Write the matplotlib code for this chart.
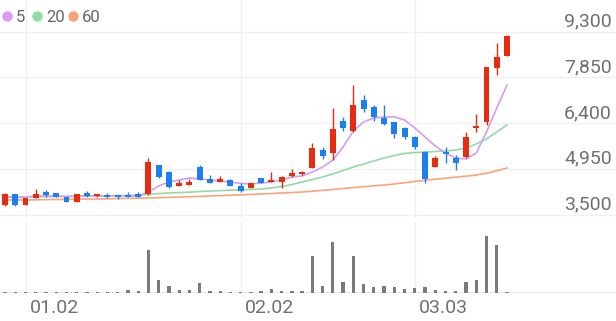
import matplotlib
matplotlib.use("Agg")
import matplotlib.pyplot as plt
import numpy as np

plt.rcParams['font.family'] = ['Roboto', 'DejaVu Sans']

# daily candles (open, high, low, close)
opens = [3800, 4150, 3800, 4020, 4210, 4180, 4060, 3900, 4180, 4090,
         4120, 4080, 4120, 4150, 4150, 5070, 4850, 4400, 4440, 5010,
         4630, 4530, 4600, 4400, 4340, 4660, 4530, 4530, 4720, 4790,
         4980, 5550, 5450, 6470, 6150, 7130, 6910, 6560, 6430, 6250,
         5960, 5480, 5010, 5480, 5290, 5320, 6250, 6440, 8150, 8530]
highs = [4170, 4160, 4030, 4310, 4280, 4190, 4060, 4160, 4250, 4120,
         4180, 4080, 4220, 4210, 5290, 5080, 4880, 4600, 4630, 5070,
         4750, 4720, 4620, 4500, 4510, 4670, 4850, 4720, 4940, 4880,
         5770, 5640, 6880, 6590, 7610, 7290, 6970, 6970, 6430, 6280,
         5990, 5500, 5360, 5640, 5390, 6120, 6690, 8190, 8940, 9200]
lows = [3780, 3770, 3790, 4020, 4060, 4050, 3890, 3890, 4060, 4050,
        4030, 3990, 4050, 4050, 4110, 4660, 4340, 4390, 4430, 4590,
        4490, 4520, 4390, 4210, 4330, 4490, 4520, 4340, 4690, 4750,
        4970, 5260, 5230, 6150, 6120, 6750, 6470, 6340, 5930, 5900,
        5590, 4500, 5000, 5130, 4910, 5290, 6120, 6340, 7930, 8520]
closes = [4150, 3800, 4020, 4150, 4120, 4060, 3900, 4150, 4090, 4120,
          4060, 4060, 4060, 4060, 5170, 4690, 4370, 4500, 4530, 4600,
          4500, 4630, 4400, 4250, 4500, 4500, 4600, 4690, 4820, 4850,
          5610, 5360, 6210, 6250, 6970, 6850, 6590, 6370, 6050, 5960,
          5640, 4630, 5290, 5420, 5130, 5960, 6310, 8180, 8500, 9160]

# moving averages as shown on the chart
ma5 = [4055, 4055, 4055, 4087, 4087, 4087, 4071, 4087, 4087, 4087,
       4087, 4087, 4087, 4087, 4214, 4404, 4531, 4595, 4658, 4626,
       4595, 4563, 4531, 4484, 4468, 4500, 4531, 4595, 4690, 4722,
       4849, 5007, 5229, 5642, 6149, 6435, 6562, 6594, 6594, 6499,
       6245, 5959, 5674, 5451, 5293, 5261, 5451, 6118, 6879, 7609]
ma20 = [4055, 4055, 4055, 4062, 4068, 4071, 4074, 4081, 4087, 4087,
        4093, 4100, 4106, 4112, 4135, 4166, 4182, 4195, 4208, 4227,
        4246, 4258, 4271, 4284, 4296, 4309, 4341, 4388, 4452, 4531,
        4611, 4690, 4785, 4896, 5007, 5102, 5198, 5293, 5372, 5436,
        5467, 5483, 5499, 5515, 5547, 5610, 5737, 5896, 6118, 6340]
ma60 = [3960, 3960, 3960, 3966, 3973, 3976, 3979, 3985, 3992, 3992,
        3998, 4005, 4011, 4017, 4024, 4033, 4043, 4055, 4065, 4074,
        4087, 4100, 4112, 4125, 4138, 4150, 4166, 4182, 4198, 4214,
        4239, 4268, 4293, 4325, 4354, 4382, 4411, 4436, 4468, 4506,
        4547, 4588, 4620, 4652, 4684, 4715, 4753, 4810, 4887, 4975]

volume = [1, 1, 1, 1, 1, 1, 1, 1.5, 1, 1,
          1, 1, 3, 2, 43, 13, 7, 3, 3, 10,
          2, 2, 1, 1, 1, 2, 4, 2, 2, 2,
          37, 7, 51, 11, 37, 9, 6, 7, 6, 4,
          5, 6, 3, 2, 2, 11, 13, 57, 48, 1]

price_ticks = [3500, 4950, 6400, 7850, 9300]
date_labels = ['01.02', '02.02', '03.03']
date_pos = [2, 23, 40]

UP = '#e62b11'
DOWN = '#1b7ff0'
GRID = '#f0f0f0'
TXT = '#707070'

fig = plt.figure(figsize=(6.16, 3.21), dpi=100)
H = 321.0
ax = fig.add_axes([0, (H - 218) / H, 1, 218 / H])
axv = fig.add_axes([0, (H - 293) / H, 1, 71 / H])

x = np.arange(len(closes))
xlim = (-0.49, 59.64)

for a in (ax, axv):
    a.set_xlim(*xlim)
    for s in a.spines.values():
        s.set_visible(False)
    a.set_xticks([])
    a.set_yticks([])
    a.patch.set_alpha(0)
    for p in date_pos:
        a.axvline(p, color=GRID, lw=1, zorder=0)

ax.set_ylim(3500 - 3.5 * 31.73, 3500 + 214.5 * 31.73)
for t in price_ticks:
    ax.axhline(t, color=GRID, lw=1, zorder=0)
    ax.annotate(f'{t:,}', xy=(0.9935, t), xycoords=('axes fraction', 'data'),
                xytext=(0, 5), textcoords='offset pixels', ha='right', va='baseline',
                fontsize=14, color=TXT)

# moving averages
ax.plot(x, ma60, color='#f9a47a', lw=1.2, zorder=2)
ax.plot(x, ma20, color='#93dba5', lw=1.2, zorder=2)
ax.plot(x, ma5, color='#d59cf0', lw=1.2, zorder=2)

# candles
o = np.array(opens); c = np.array(closes)
cols = [UP if cc >= oo else DOWN for oo, cc in zip(o, c)]
bottom = np.minimum(o, c)
height = np.maximum(np.abs(c - o), 45)
ax.vlines(x, lows, highs, colors=cols, lw=1, zorder=3)
ax.bar(x, height, bottom=bottom, width=0.58, color=cols, zorder=4)

# volume
axv.set_ylim(0, 71)
axv.bar(x, volume, width=0.32, color='#7a7a7a', zorder=2)
axv.axhline(0, color='#e4e4e4', lw=1.2, zorder=1)
for lab, p in zip(date_labels, date_pos):
    axv.annotate(lab, xy=(p, 0), xycoords='data', xytext=(4, -20),
                 textcoords='offset pixels', ha='left', va='baseline',
                 fontsize=14, color=TXT)

# legend
leg = [('5', '#d59cf0', 7, 16), ('20', '#93dba5', 37, 46), ('60', '#f9a47a', 73, 82)]
for lab, col, cx, tx in leg:
    fig.add_artist(matplotlib.lines.Line2D([cx / 616], [1 - 15.5 / H], marker='o',
                                           markersize=6.5, color=col, linestyle='none',
                                           transform=fig.transFigure))
    fig.text(tx / 616, 1 - 22 / H, lab, fontsize=12, color='#666666', va='baseline')

fig.savefig('out.png', dpi=100)
